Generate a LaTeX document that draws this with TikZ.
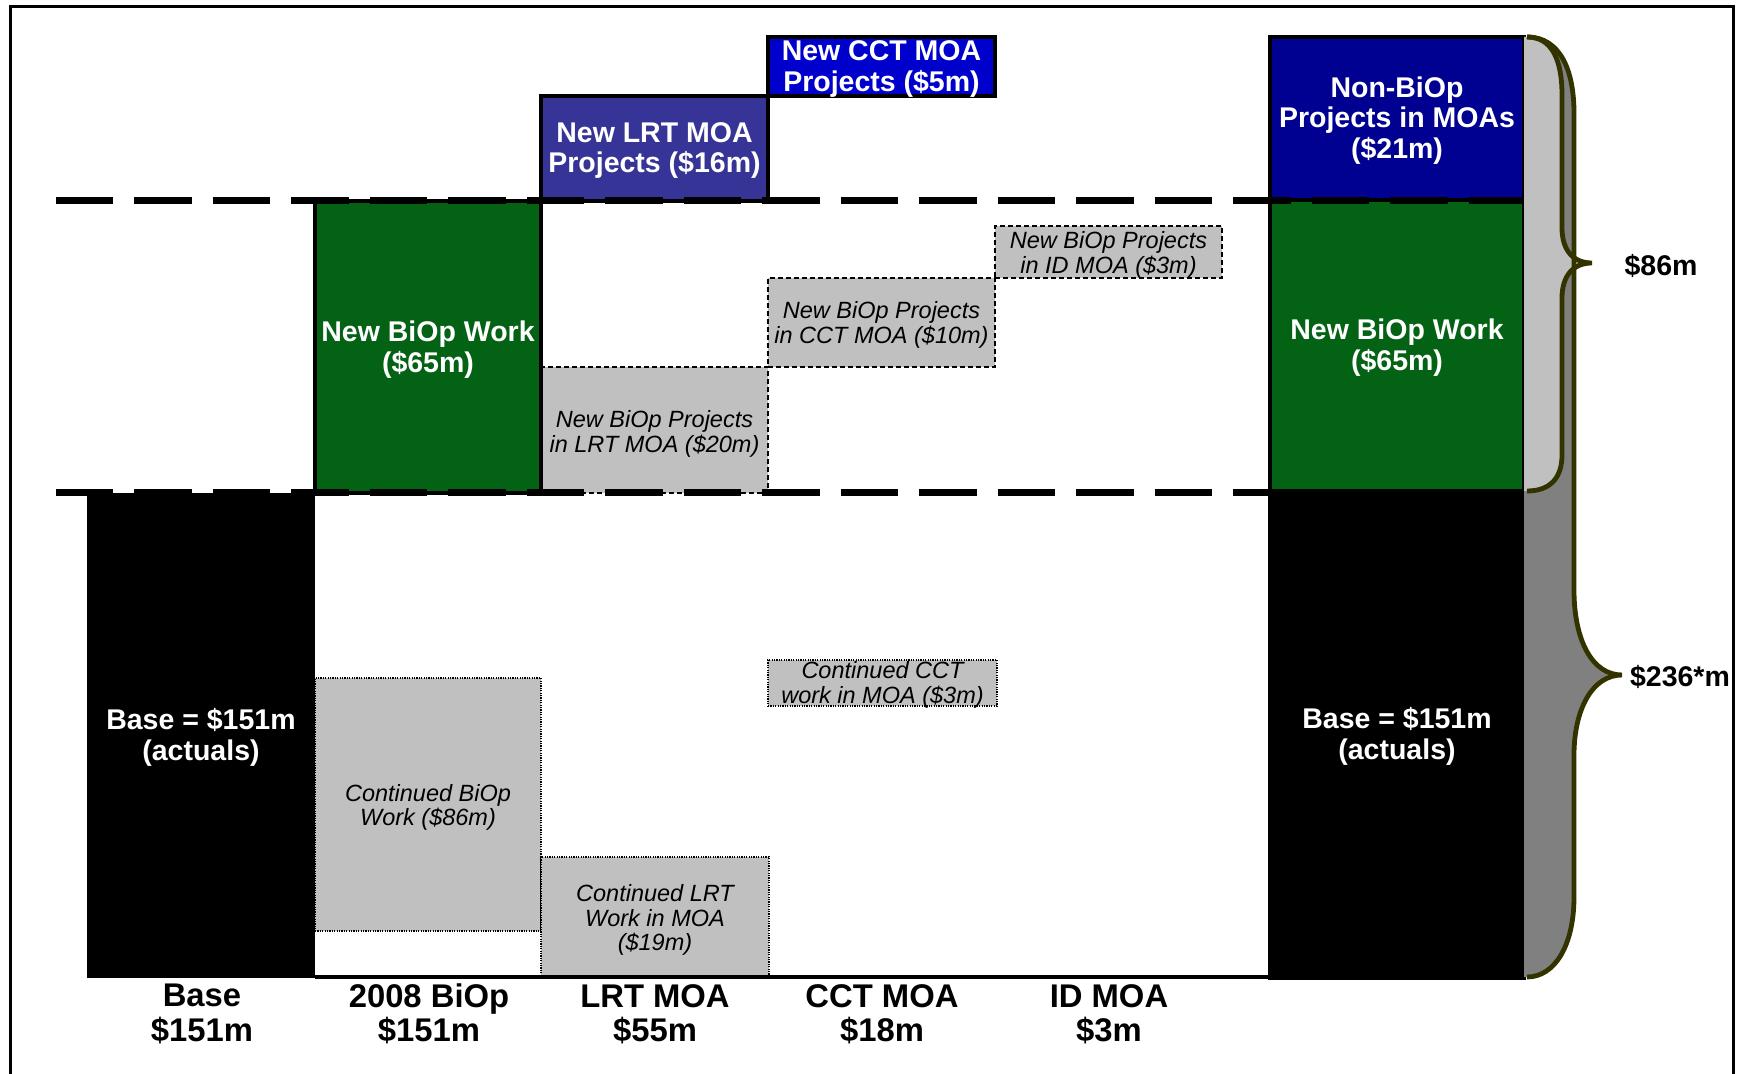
\documentclass[tikz,border=0pt]{standalone}
\usepackage{fontspec}
\setmainfont{Liberation Sans}
\definecolor{barGreen}{RGB}{3,98,20}
\definecolor{lrtBlue}{RGB}{54,52,150}
\definecolor{cctBlue}{RGB}{0,0,204}
\definecolor{navyBlue}{RGB}{0,0,145}
\definecolor{lgrey}{RGB}{192,192,192}
\definecolor{dgrey}{RGB}{128,128,128}
\definecolor{braceCol}{RGB}{51,51,0}
\newcommand\boldlbl{\bfseries\fontsize{14.25}{15.4}\selectfont}
\newcommand\itlbl{\itshape\fontsize{11.75}{12.3}\selectfont}
\newcommand\axlbl{\bfseries\fontsize{16.4}{17.2}\selectfont}
% name, x1, y1, x2, y2, box style, text style, text shift (px), text
\newcommand\mybar[9]{%
  \pgfmathsetmacro\cxx{(#2+#4)/2}%
  \pgfmathsetmacro\cyy{(#3+#5)/2}%
  \pgfmathsetmacro\tyy{(#3+#5)/2+#8}%
  \pgfmathsetmacro\www{(#4-#2)*0.5}%
  \pgfmathsetmacro\hhh{(#5-#3)*0.5}%
  \node[#6, minimum width=\www pt, minimum height=\hhh pt] (#1) at (\cxx,\cyy) {};
  \node[#7] (#1-text) at (\cxx,\tyy) {#9};}
\begin{document}
\begin{tikzpicture}[x={(0.5pt,0pt)},y={(0pt,-0.5pt)},
  solidbar/.style={draw=black, line width=2.2pt, inner sep=0pt, outer sep=0pt},
  whitetext/.style={text=white, font=\boldlbl, align=center, inner sep=0pt},
  newbiop/.style={fill=lgrey, draw=black, line width=1.1pt, dash pattern=on 2.6pt off 1.4pt, inner sep=0pt, outer sep=0pt},
  contbox/.style={fill=lgrey, draw=black, line width=1.2pt, dash pattern=on 0.6pt off 0.6pt, inner sep=0pt, outer sep=0pt},
  ittext/.style={font=\itlbl, align=center, inner sep=0pt},
  axislbl/.style={font=\axlbl, align=center, inner sep=0pt},
  bracelbl/.style={font=\boldlbl, inner sep=0pt},
  sepline/.style={line width=3.5pt, dash pattern=on 28.75pt off 10.5pt},
  braceline/.style={draw=braceCol, line width=2.4pt}]
\useasboundingbox (0,0) rectangle (1742,1074);
% frame
\draw[line width=1.5pt] (10,1074) -- (10,7) -- (1733,7) -- (1733,1074);

% continued (dotted) boxes
\mybar{contBiOp}{315}{678}{541}{931}{contbox}{ittext}{3}{Continued BiOp\\Work (\$86m)}
\mybar{contLRT}{541}{857}{769}{977}{contbox}{ittext}{3}{Continued LRT\\Work in MOA\\(\$19m)}
\mybar{contCCT}{768}{660}{997}{706}{contbox}{ittext}{2}{Continued CCT\\work in MOA (\$3m)}

% new BiOp project boxes (dashed)
\mybar{newLRT}{541}{367}{768}{493}{newbiop}{ittext}{4}{New BiOp Projects\\in LRT MOA (\$20m)}
\mybar{newCCT}{768}{278}{995}{367}{newbiop}{ittext}{2.5}{New BiOp Projects\\in CCT MOA (\$10m)}
\mybar{newID}{995}{226}{1222}{278}{newbiop}{ittext}{3}{New BiOp Projects\\in ID MOA (\$3m)}

% base bar
\mybar{base}{87}{493}{315}{978}{solidbar, fill=black, draw=none}{whitetext}{2}{Base = \$151m\\(actuals)}
% green new BiOp work
\mybar{green}{315}{201}{541}{493}{solidbar, fill=barGreen}{whitetext}{2.5}{New BiOp Work\\(\$65m)}
% blue MOA project boxes
\mybar{lrtMOA}{541}{96}{768}{201}{solidbar, fill=lrtBlue}{whitetext}{2}{New LRT MOA\\Projects (\$16m)}
\mybar{cctMOA}{768}{37}{995}{96}{solidbar, fill=cctBlue}{whitetext}{2.5}{New CCT MOA\\Projects (\$5m)}

% axis line
\coordinate (axL) at (315,977);
\coordinate (axR) at (1270,977);
\draw[line width=2pt] (axL) -- (axR);

% right column
\mybar{totBase}{1270}{491}{1524}{978}{solidbar, fill=black}{whitetext}{2}{Base = \$151m\\(actuals)}
\mybar{totGreen}{1270}{200}{1524}{491}{solidbar, fill=barGreen}{whitetext}{2.5}{New BiOp Work\\(\$65m)}
\mybar{totNon}{1270}{37}{1524}{200}{solidbar, fill=navyBlue}{whitetext}{2}{Non-BiOp\\Projects in MOAs\\(\$21m)}

% separator dashed lines
\coordinate (upL) at (55.5,201);
\coordinate (upR) at (1524,201);
\coordinate (loL) at (55.5,493);
\coordinate (loR) at (1524,493);
\draw[sepline] (upL) -- (upR);
\draw[sepline] (loL) -- (loR);

% outer brace fill + inner brace fill
\fill[dgrey] (1524,37) -- (1527,37) .. controls (1560,37) and (1574,70) .. (1574,113) -- (1574,590)
  .. controls (1574,640) and (1592,675) .. (1622,675)
  .. controls (1592,675) and (1574,710) .. (1574,755) -- (1574,897)
  .. controls (1574,945) and (1555,977) .. (1527,977) -- (1524,977) -- cycle;
\fill[lgrey] (1524,37) -- (1527,37) .. controls (1552,37) and (1562,60) .. (1562,95) -- (1562,228)
  .. controls (1562,250) and (1573,263) .. (1592,263)
  .. controls (1573,263) and (1562,276) .. (1562,298) -- (1562,455)
  .. controls (1562,478) and (1550,491) .. (1527,491) -- (1524,491) -- cycle;
\draw[braceline] (1527,37) .. controls (1560,37) and (1574,70) .. (1574,113) -- (1574,590)
  .. controls (1574,640) and (1592,675) .. (1622,675)
  .. controls (1592,675) and (1574,710) .. (1574,755) -- (1574,897)
  .. controls (1574,945) and (1555,977) .. (1527,977);
\draw[braceline] (1527,37) .. controls (1552,37) and (1562,60) .. (1562,95) -- (1562,228)
  .. controls (1562,250) and (1573,263) .. (1592,263)
  .. controls (1573,263) and (1562,276) .. (1562,298) -- (1562,455)
  .. controls (1562,478) and (1550,491) .. (1527,491);
\node[bracelbl] (lbl86) at (1661,266) {\$86m};
\node[bracelbl] (lbl236) at (1680,677) {\$236*m};

% axis labels
\node[axislbl] (axBase) at (202,1014) {Base\\\$151m};
\node[axislbl] (axBiOp) at (429,1014) {2008 BiOp\\\$151m};
\node[axislbl] (axLRT) at (655,1014) {LRT MOA\\\$55m};
\node[axislbl] (axCCT) at (882,1014) {CCT MOA\\\$18m};
\node[axislbl] (axID) at (1109,1014) {ID MOA\\\$3m};
\end{tikzpicture}
\end{document}
